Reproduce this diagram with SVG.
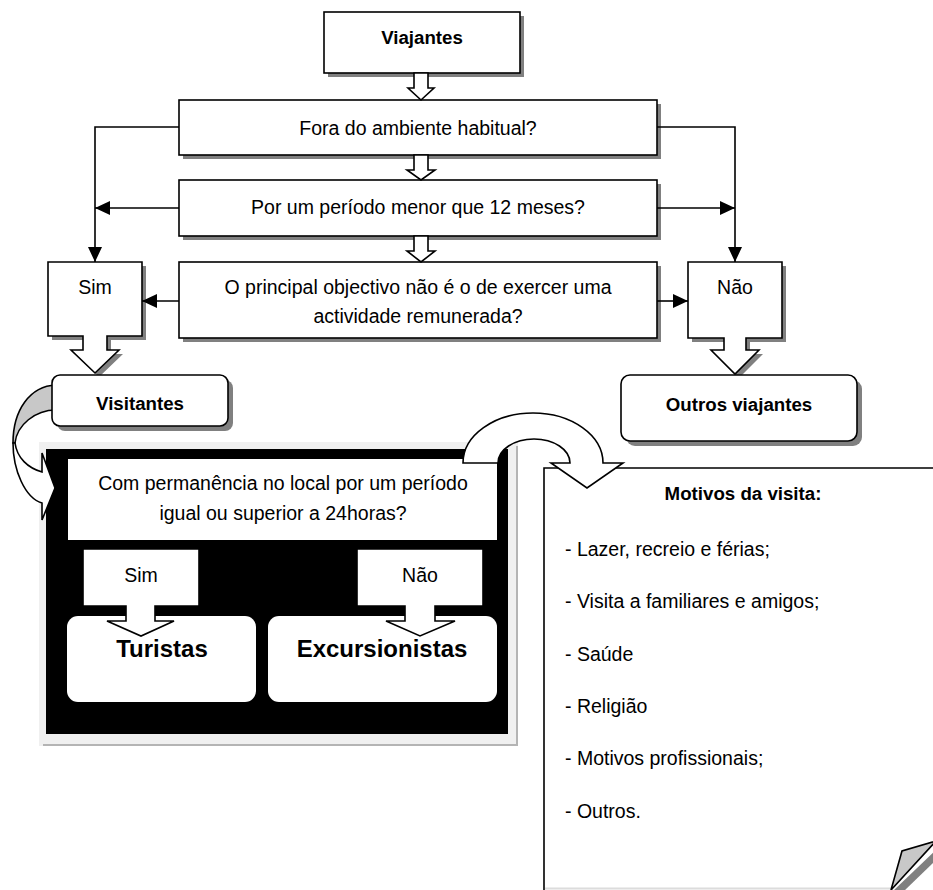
<svg xmlns="http://www.w3.org/2000/svg" width="933" height="890" viewBox="0 0 933 890">
<defs>
<marker id="ah" viewBox="0 0 15 14" refX="15" refY="7" markerWidth="15" markerHeight="14" markerUnits="userSpaceOnUse" orient="auto"><path d="M0,0 L15,7 L0,14 Z" fill="#000"/></marker>
</defs>
<style>
.box{fill:#fff;stroke:#000;stroke-width:1.6}
.sh{fill:#808080}
.t{font-family:"Liberation Sans",Arial,sans-serif;font-size:19.5px;fill:#000;text-anchor:middle}
.b{font-weight:bold;font-size:18.7px}
.big{font-weight:bold;font-size:24px}
.l{text-anchor:start}
.conn{fill:none;stroke:#000;stroke-width:1.6}
.hol{fill:#fff;stroke:#000;stroke-width:1.6;stroke-linejoin:miter}
.wh{fill:#fff}
.curl{fill:#c8c8c8;stroke:#000;stroke-width:1.6}
</style>
<rect x="0" y="0" width="933" height="890" fill="#fff"/>

<g id="viajantes">
<rect class="sh" x="328" y="16" width="196" height="61"/>
<rect class="box" x="324" y="12" width="196" height="61"/>
<text class="t b" x="422" y="44">Viajantes</text>
</g>

<g id="fora">
<rect class="sh" x="183" y="104" width="478" height="55"/>
<rect class="box" x="179" y="100" width="478" height="55"/>
<text class="t" x="418" y="134.5">Fora do ambiente habitual?</text>
</g>

<g id="periodo">
<rect class="sh" x="183" y="184" width="478" height="56"/>
<rect class="box" x="179" y="180" width="478" height="56"/>
<text class="t" x="418" y="214">Por um período menor que 12 meses?</text>
</g>

<g id="objectivo">
<rect class="sh" x="183" y="266" width="478" height="76"/>
<rect class="box" x="179" y="262" width="478" height="76"/>
<text class="t" x="418" y="294">O principal objectivo não é o de exercer uma</text>
<text class="t" x="418" y="323">actividade remunerada?</text>
</g>

<g id="sim">
<path class="sh" transform="translate(4,4)" d="M48,262 H142 V336 H107 V350 H119 L95,373 L71,350 H83 V336 H48 Z"/>
<path class="box" d="M48,262 H142 V336 H107 V350 H119 L95,373 L71,350 H83 V336 H48 Z"/>
<text class="t" x="95" y="294">Sim</text>
</g>

<g id="nao">
<path class="sh" transform="translate(4,4)" d="M688,262 H782 V338 H746 V350 H759 L735,374 L711,350 H724 V338 H688 Z"/>
<path class="box" d="M688,262 H782 V338 H746 V350 H759 L735,374 L711,350 H724 V338 H688 Z"/>
<text class="t" x="735" y="294">Não</text>
</g>

<g id="connectors">
<path class="hol" d="M414,73 V88 H408 L421,100 L434,88 H428 V73 Z"/>
<path class="hol" d="M414,155 V170 H407 L421,180 L435,170 H428 V155 Z"/>
<path class="hol" d="M414,236 V251 H407 L421,262 L435,251 H428 V236 Z"/>
<path class="conn" d="M179,127 H95 V262" marker-end="url(#ah)"/>
<path class="conn" d="M657,127 H735 V262" marker-end="url(#ah)"/>
<path class="conn" d="M179,208 H95" marker-end="url(#ah)"/>
<path class="conn" d="M657,208 H735" marker-end="url(#ah)"/>
<path class="conn" d="M179,301 H142" marker-end="url(#ah)"/>
<path class="conn" d="M657,301 H688" marker-end="url(#ah)"/>
</g>

<g id="outros">
<rect class="sh" x="626" y="380" width="236" height="66" rx="9"/>
<rect class="box" x="621" y="375" width="236" height="66" rx="9"/>
<text class="t b" x="739" y="410.5">Outros viajantes</text>
</g>

<g id="tipos">
<rect x="39" y="442" width="479" height="304" fill="#f0f0f0"/>
<path d="M517,446 V745 H43" fill="none" stroke="#b4b4b4" stroke-width="2"/>
<rect x="46" y="449" width="462" height="285" fill="#000"/>
<rect class="wh" x="68" y="459" width="429" height="81"/>
<text class="t" x="283" y="490">Com permanência no local por um período</text>
<text class="t" x="283" y="520">igual ou superior a 24horas?</text>
<rect class="wh" x="67" y="616" width="189" height="86" rx="11"/>
<rect class="wh" x="268" y="616" width="229" height="86" rx="11"/>
<path class="hol" d="M83,549 H199 V606 H155 V621 H174 L141,636 L107,621 H126 V606 H83 Z"/>
<path class="hol" d="M357,549 H483 V606 H435 V621 H455 L420,636 L386,621 H405 V606 H357 Z"/>
<text class="t" x="141" y="582">Sim</text>
<text class="t" x="420" y="582">Não</text>
<text class="t big" x="162" y="657">Turistas</text>
<text class="t big" x="382" y="657">Excursionistas</text>
</g>

<g id="seta-visitantes">
<path class="curl" d="M56,385 C30,386 13,410 13,443 L15,443 C17,425 35,410 56,410 Z"/>
<path class="hol" d="M13,443 C13,470 25,498 42,503 L42,520 L55,488 L42,453 L42,472 C28,468 17,458 15,443 Z"/>
</g>

<g id="visitantes">
<rect class="sh" x="57" y="380" width="176" height="51" rx="8"/>
<rect class="box" x="52" y="375" width="176" height="51" rx="8"/>
<text class="t b" x="140" y="409.5">Visitantes</text>
</g>

<g id="motivos">
<rect class="wh" x="544" y="468" width="395" height="425"/>
<path d="M544,892 V468 H940" fill="none" stroke="#000" stroke-width="1.6"/>
<path d="M545,888.5 H893" fill="none" stroke="#dcdcdc" stroke-width="2"/>
<path d="M893,891 L936,850 V860 L904,891 Z" fill="#808080"/>
<path class="curl" d="M891,890 L902,851 L936,841 Z"/>
<text class="t b" x="743" y="500">Motivos da visita:</text>
<text class="t l" x="565" y="556">- Lazer, recreio e férias;</text>
<text class="t l" x="565" y="608">- Visita a familiares e amigos;</text>
<text class="t l" x="565" y="661">- Saúde</text>
<text class="t l" x="565" y="713">- Religião</text>
<text class="t l" x="565" y="765">- Motivos profissionais;</text>
<text class="t l" x="565" y="818">- Outros.</text>
</g>

<g id="seta-motivos">
<path class="hol" d="M463,463 A70,50 0 0 1 603,463 L623,463 L587,488 L551,463 L570,463 A36,24 0 0 0 498,463 Z"/>
</g>
</svg>
